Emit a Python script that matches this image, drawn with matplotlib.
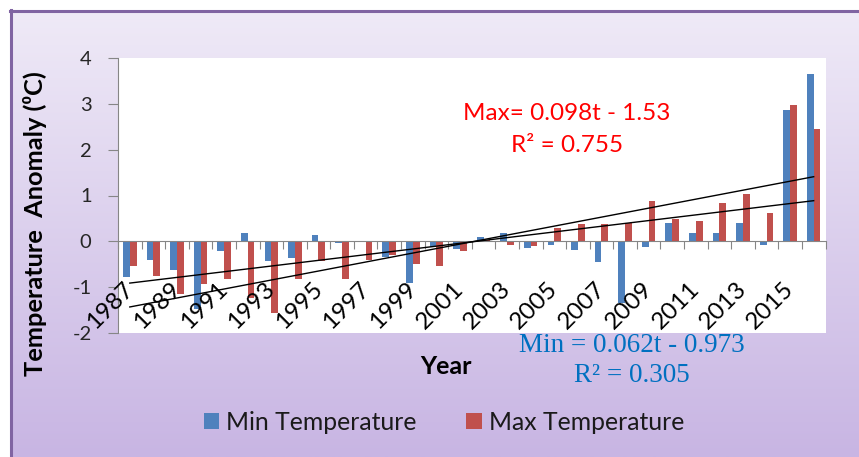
import matplotlib
matplotlib.use('Agg')
import matplotlib.pyplot as plt
import numpy as np
from matplotlib.lines import Line2D

years = list(range(1987, 2017))
min_temp = [-0.77, -0.40, -0.62, -1.48, -0.21, 0.19, -0.43, -0.37, 0.13, -0.03,
            0.00, -0.35, -0.90, -0.12, -0.17, 0.10, 0.18, -0.15, -0.09, -0.18,
            -0.44, -1.35, -0.12, 0.41, 0.18, 0.18, 0.41, -0.07, 2.86, 3.65]
max_temp = [-0.54, -0.75, -1.15, -0.92, -0.83, -1.24, -1.57, -0.83, -0.43, -0.83,
            -0.41, -0.30, -0.50, -0.54, -0.20, 0.02, -0.07, -0.10, 0.30, 0.38,
            0.38, 0.39, 0.87, 0.49, 0.44, 0.84, 1.04, 0.61, 2.98, 2.46]
min_trend = (0.062, -0.973)
max_trend = (0.098, -1.53)
y_ticks = [-2, -1, 0, 1, 2, 3, 4]

plt.rcParams['font.family'] = ['Lato', 'DejaVu Sans']

W, H = 859, 457
fig = plt.figure(figsize=(W / 100, H / 100), dpi=100)
fig.patch.set_facecolor('white')

def fx(px):
    return px / W

def fy(py):
    return 1 - py / H

# gradient background
bg = fig.add_axes([fx(11), 0, 1 - fx(11), fy(10)], zorder=-10)
grad = np.linspace(0, 1, 256).reshape(-1, 1)
top = np.array([0xEF, 0xEA, 0xF7]) / 255
bot = np.array([0xC8, 0xB5, 0xE3]) / 255
img = top[None, None, :] * (1 - grad[:, :, None]) + bot[None, None, :] * grad[:, :, None]
bg.imshow(img, aspect='auto', extent=[0, 1, 0, 1], origin='upper')
bg.set_axis_off()
fig.add_artist(Line2D([fx(11), fx(11)], [0, fy(10)], color='#8064A2', lw=2.2))
fig.add_artist(Line2D([fx(10), 1], [fy(10.5), fy(10.5)], color='#8064A2', lw=2.2))

ax = fig.add_axes([fx(118), fy(333), fx(825.5) - fx(118), fy(58) - fy(333)])
ax.set_facecolor('white')
n = len(years)
x = np.arange(n)
w = 1 / 3.5
ax.bar(x - w / 2, min_temp, width=w, color='#4F81BD', zorder=2, label='Min Temperature')
ax.bar(x + w / 2, max_temp, width=w, color='#C0504D', zorder=2, label='Max Temperature')

t = np.arange(1, n + 1)
ax.plot(x, min_trend[0] * t + min_trend[1], color='black', lw=1.0, zorder=3)
ax.plot(x, max_trend[0] * t + max_trend[1], color='black', lw=1.0, zorder=3)

ax.set_xlim(-0.5, n - 0.5)
ax.set_ylim(-2, 4)
ax.set_yticks(y_ticks)
ax.set_yticklabels([str(v) for v in y_ticks], fontsize=14.5, color='#262626')
ax.tick_params(axis='y', length=7, color='#868686', pad=12)

for s in ['top', 'right']:
    ax.spines[s].set_visible(False)
ax.spines['left'].set_color('#868686')
ax.spines['bottom'].set_position(('data', 0))
ax.spines['bottom'].set_color('#868686')
ax.set_xticks(np.arange(n + 1) - 0.5)
ax.set_xticklabels([])
ax.tick_params(axis='x', length=6, color='#868686')

for i, yr in enumerate(years):
    if i % 2 == 0:
        ax.text(i - 0.3, -0.80, str(yr), rotation=45, rotation_mode='anchor',
                ha='right', va='top', fontsize=17.5, color='black')

fig.text(fx(35), fy(224), 'Temperature  Anomaly (\u2070C)', rotation=90,
         ha='center', va='center', fontsize=18.3, fontweight='bold', color='black')
fig.text(fx(446), fy(367), 'Year', ha='center', va='center', fontsize=18,
         fontweight='bold', color='black')

fig.text(fx(567), fy(114), 'Max= 0.098t - 1.53', ha='center', va='center',
         fontsize=17.5, color='#FF0000')
fig.text(fx(567), fy(146), 'R\u00b2 = 0.755', ha='center', va='center',
         fontsize=17.5, color='#FF0000')
fig.text(fx(632), fy(345), 'Min = 0.062t - 0.973', ha='center', va='center',
         fontsize=19.5, color='#0070C0', family='Liberation Serif')
fig.text(fx(632), fy(375), 'R\u00b2 = 0.305', ha='center', va='center',
         fontsize=19.5, color='#0070C0', family='Liberation Serif')

fig.legend(loc='center', bbox_to_anchor=(fx(444), fy(422)), ncol=2, frameon=False,
           fontsize=17.8, handlelength=0.62, handleheight=0.62, handletextpad=0.3,
           columnspacing=2.0, labelcolor='#1a1a1a')

fig.savefig('out.png', dpi=100)
